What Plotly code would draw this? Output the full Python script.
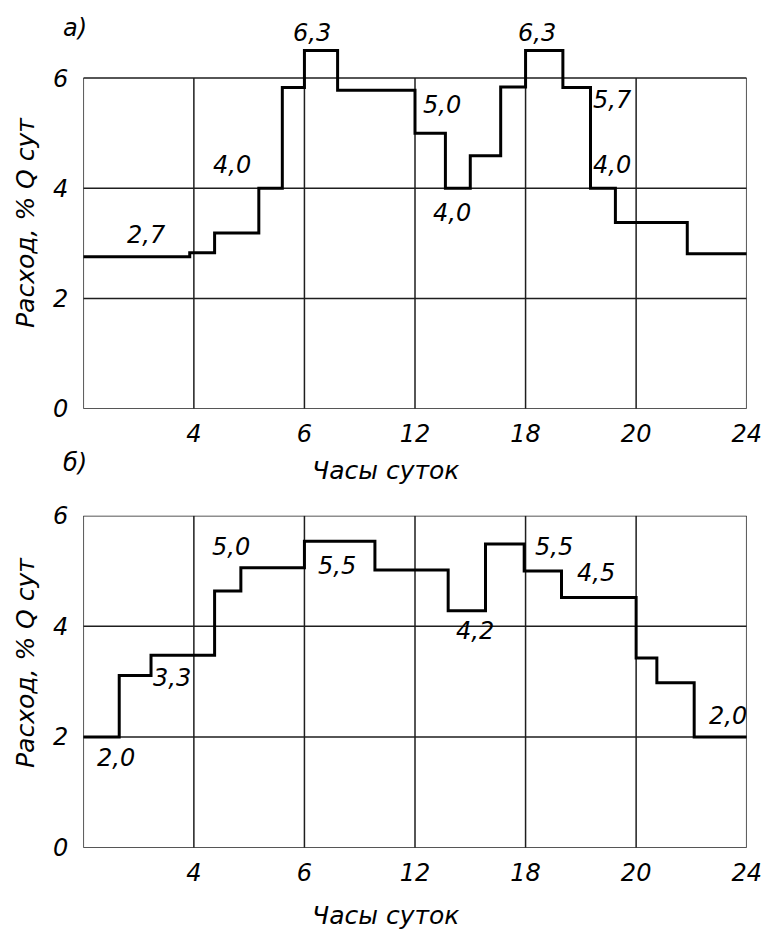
import plotly.graph_objects as go

# ---------------- data ----------------
hours_a = [0, 3.85, 4.75, 6.35, 7.2, 8.0, 9.2, 12.0, 13.1, 14.0, 15.1, 16.0, 17.35, 18.35, 19.25, 21.85, 24]
flow_a = [2.76, 2.83, 3.19, 4.0, 5.83, 6.5, 5.78, 5.0, 4.0, 4.59, 5.84, 6.5, 5.83, 4.0, 3.38, 2.81]

hours_b = [0, 1.3, 2.45, 4.75, 5.7, 8.0, 10.55, 13.2, 14.55, 15.95, 17.3, 20.0, 20.75, 22.1, 24]
flow_b = [2.0, 3.11, 3.48, 4.64, 5.06, 5.54, 5.02, 4.28, 5.49, 5.0, 4.52, 3.43, 2.98, 2.0]

x_tickvals = [4, 8, 12, 16, 20, 24]
x_ticktext = ["4", "6", "12", "18", "20", "24"]
y_tickvals = [0, 2, 4, 6]
y_ticktext = ["0", "2", "4", "6"]

labels_a = ["2,7", "4,0", "6,3", "5,0", "4,0", "6,3", "5,7", "4,0"]
labels_b = ["5,0", "5,5", "3,3", "2,0", "5,5", "4,5", "4,2", "2,0"]

panel_letters = ["а)", "б)"]
x_title = "Часы суток"
y_title = "Расход, % Q сут"

# ---------------- layout helpers ----------------
W, H = 768, 933
FONT = "DejaVu Sans"


def px(x):
    return x / W


def py(y):
    return 1 - y / H


label_pos_a = [(146, 235), (232, 165), (312, 33), (442, 105), (452, 213), (537, 33), (612, 100), (612, 165)]
label_pos_b = [(231, 547), (337, 566), (172, 678), (116, 758), (554, 547), (596, 573), (475, 631), (728, 716)]

fig = go.Figure()

# step lines: repeat last value so the final step reaches 24 h
fig.add_trace(go.Scatter(x=hours_a, y=flow_a + [flow_a[-1]], mode="lines",
                         line=dict(color="black", width=3, shape="hv"),
                         xaxis="x", yaxis="y", showlegend=False, hoverinfo="skip"))
fig.add_trace(go.Scatter(x=hours_b, y=flow_b + [flow_b[-1]], mode="lines",
                         line=dict(color="black", width=3, shape="hv"),
                         xaxis="x2", yaxis="y2", showlegend=False, hoverinfo="skip"))

shapes = []
grid_col = "#1e1e1e"
for xr, yr in [("x", "y"), ("x2", "y2")]:
    for xv in [0] + x_tickvals:
        shapes.append(dict(type="line", xref=xr, yref=yr, x0=xv, x1=xv, y0=0, y1=6,
                           line=dict(color=grid_col, width=1.5), layer="below"))
    for yv in y_tickvals:
        shapes.append(dict(type="line", xref=xr, yref=yr, x0=0, x1=24, y0=yv, y1=yv,
                           line=dict(color=grid_col, width=1.5), layer="below"))

annotations = []
lab_font = dict(family=FONT, size=24, color="black", style="italic")
title_font = dict(family=FONT, size=25, color="black", style="italic")
for t, (ax, ay) in zip(labels_a, label_pos_a):
    annotations.append(dict(text=t, x=px(ax), y=py(ay), xref="paper", yref="paper",
                            showarrow=False, font=lab_font, xanchor="center", yanchor="middle"))
for t, (ax, ay) in zip(labels_b, label_pos_b):
    annotations.append(dict(text=t, x=px(ax), y=py(ay), xref="paper", yref="paper",
                            showarrow=False, font=lab_font, xanchor="center", yanchor="middle"))

# panel letters
for t, (ax, ay) in zip(panel_letters, [(75, 28), (75, 463)]):
    annotations.append(dict(text=t, x=px(ax), y=py(ay), xref="paper", yref="paper",
                            showarrow=False, font=lab_font, xanchor="center", yanchor="middle"))
# x titles
for ay in [470, 915]:
    annotations.append(dict(text=x_title, x=px(385), y=py(ay), xref="paper", yref="paper",
                            showarrow=False, font=title_font, xanchor="center", yanchor="middle"))
# y titles
for ay in [223, 663]:
    annotations.append(dict(text=y_title, x=px(25), y=py(ay), xref="paper", yref="paper",
                            showarrow=False, font=title_font, xanchor="center", yanchor="middle",
                            textangle=-90))

tick_font = dict(family=FONT, size=24, color="black", style="italic")
xdom = [px(83.3), px(746.7)]

common_x = dict(range=[0, 24], showgrid=False, zeroline=False, showline=False,
                tickvals=x_tickvals, ticktext=x_ticktext, tickfont=tick_font,
                ticks="", ticklabelstandoff=8, fixedrange=True, automargin=False)
common_y = dict(showgrid=False, zeroline=False, showline=False,
                tickvals=y_tickvals, ticktext=y_ticktext, tickfont=tick_font,
                ticks="", ticklabelstandoff=14, fixedrange=True, automargin=False)

fig.update_layout(
    width=W, height=H,
    margin=dict(l=0, r=0, t=0, b=0, autoexpand=False),
    paper_bgcolor="white", plot_bgcolor="white",
    xaxis=dict(domain=xdom, anchor="y", **common_x),
    yaxis=dict(domain=[py(408.7), py(408.7 - 6.65 * 55.1)], anchor="x", range=[0, 6.65], **common_y),
    xaxis2=dict(domain=xdom, anchor="y2", **common_x),
    yaxis2=dict(domain=[py(847.7), py(515.7)], anchor="x2", range=[0, 6], **common_y),
    shapes=shapes,
    annotations=annotations,
    showlegend=False,
)

fig.write_html("out.html", config={"displayModeBar": False},
               post_script="document.body.style.margin='0px';document.body.style.overflow='hidden';")
